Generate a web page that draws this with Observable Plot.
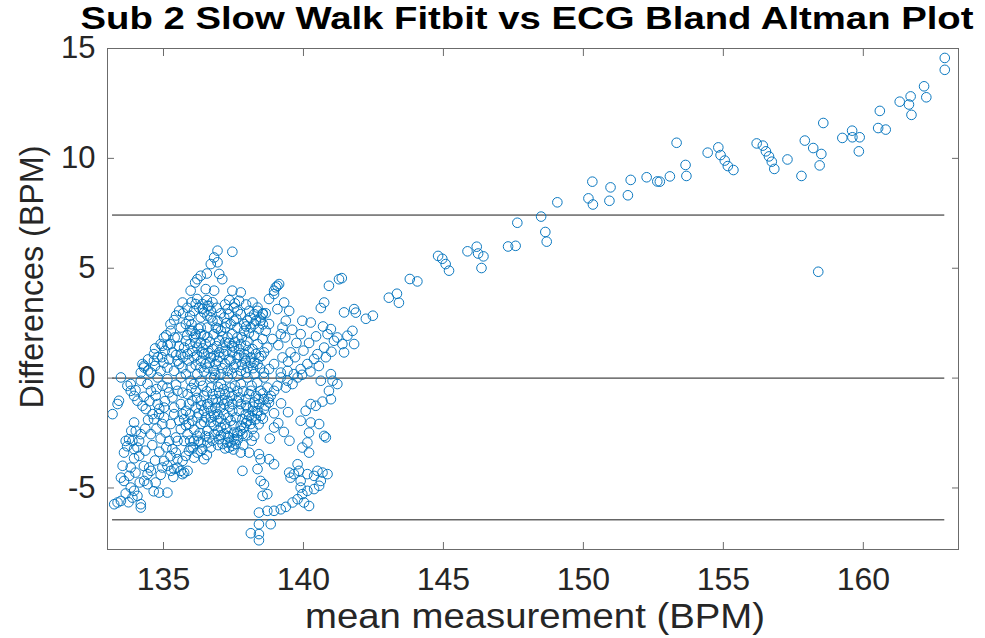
<!DOCTYPE html>
<html>
<head>
<meta charset="utf-8">
<script src="https://cdn.jsdelivr.net/npm/d3@7"></script>
<script src="https://cdn.jsdelivr.net/npm/@observablehq/plot@0.6"></script>
<style>
  html, body { margin: 0; padding: 0; background: #fff; }
  #chart { width: 985px; height: 638px; }
</style>
</head>
<body>
<div id="chart"></div>
<script>
const titleText = "Sub 2 Slow Walk Fitbit vs ECG Bland Altman Plot";
const xLabelText = "mean measurement (BPM)";
const yLabelText = "Differences (BPM)";
const xTicks = [135, 140, 145, 150, 155, 160];
const yTicks = [-5, 0, 5, 10, 15];
const limitLines = [7.42, 0, -6.45];

// sparse upper trend (mean > 141)
const trendMean = [150.32,150.97,151.69,152.26,152.64,150.18,150.34,150.93,151.59,149.07,
  148.49,147.64,148.64,148.69,147.31,147.58,146.19,145.86,146.24,146.43,
  146.36,144.81,144.96,145.08,145.20,143.80,144.07,141.37,162.91,162.91,
  162.17,162.25,161.69,161.30,161.63,161.72,160.59,160.53,160.80,158.57,
  159.60,159.25,159.61,159.87,159.84,157.91,158.21,158.50,158.44,157.79,
  157.29,156.19,156.41,156.52,156.63,156.73,156.82,154.82,154.90,155.05,
  155.16,155.36,154.44,153.33,153.65,153.68,153.09,152.73,158.39,141.87,
  142.23,142.48,143.05,143.34,143.41];
const trendDiff = [8.94,8.68,9.02,9.14,8.95,8.18,7.90,8.07,8.32,8.00,
  7.35,7.07,6.65,6.21,5.99,6.02,5.98,5.77,5.67,5.54,
  5.01,5.56,5.43,5.19,4.89,4.51,4.40,4.55,14.57,14.03,
  13.28,12.78,12.82,12.58,12.45,11.98,12.16,11.38,11.31,11.61,
  11.26,10.93,10.96,10.96,10.32,10.81,10.47,10.20,9.68,9.20,
  9.95,10.68,10.58,10.32,10.09,9.85,9.52,10.50,10.15,9.90,
  9.65,9.47,10.26,10.71,9.70,9.20,9.18,8.94,4.84,2.98,
  2.70,2.84,3.66,3.84,3.43];

// rising arms above the cluster
const armMean = [136.93,137.46,136.81,136.93,136.69,136.55,136.33,136.21,136.13,135.97,
  135.68,135.56,135.38,135.26,135.02,134.90,134.66,134.31,137.10,136.99,
  136.81,136.51,136.39,136.63,136.69,137.46,137.76,137.70,138.18,138.36,
  138.54,138.47,
  139.07,138.95,138.77,139.31,139.49,139.07,139.37,139.25,139.19,138.89,
  138.71,138.59,138.41,138.24,139.13,139.01,138.95,
  141.27,140.91,140.74,140.62,141.45,141.81,139.96,140.26,140.98,139.90,
  141.21,141.57,141.75,141.81,141.39,141.09,141.45,140.74,140.50,140.38,
  140.14,139.90,139.54,139.25,138.95,138.77,138.59,140.86,
  134.66,134.25,134.31,134.19,135.26,135.32,135.50,135.68,135.91,135.97,
  136.15,136.33,134.96];
const armDiff = [5.80,5.75,5.49,5.27,5.19,4.76,4.66,4.50,4.35,3.98,
  3.44,3.06,2.64,2.15,1.85,1.55,1.09,0.56,4.50,4.74,
  3.98,4.05,3.37,3.29,3.06,3.98,3.90,3.52,3.44,3.06,
  2.91,2.61,
  4.20,3.98,3.60,3.44,3.06,3.14,2.61,2.30,2.00,1.78,
  1.39,1.17,0.94,0.71,4.28,4.13,3.83,
  4.50,4.20,3.44,3.19,2.99,3.14,2.61,2.53,2.23,2.00,
  1.85,1.93,2.15,1.55,1.55,1.70,1.17,1.39,1.09,0.87,
  0.64,0.41,1.17,0.94,0.64,0.41,0.25,2.00,
  0.79,0.64,0.48,0.25,1.55,1.17,0.79,0.48,2.61,2.15,
  2.00,2.30,1.47];

// dense cluster, above zero
const coreUpMean = [136.57,136.33,136.69,136.93,137.17,137.34,137.52,137.20,137.46,137.64,
  137.88,138.00,138.24,138.12,138.00,138.24,136.03,136.09,136.33,136.57,
  136.81,136.99,137.11,137.29,137.52,137.76,136.39,136.21,135.80,135.74,
  135.86,136.09,136.33,136.45,136.69,136.93,137.17,137.40,137.64,137.88,
  138.12,136.57,136.81,137.05,137.29,137.52,137.76,138.00,138.36,135.97,
  136.21,135.80,135.38,135.14,134.90,134.55,139.43,139.66,139.19,
  136.15,136.27,136.45,136.57,136.75,136.09,135.95,137.29,137.52,137.76,
  138.06,138.36,138.47,138.24,137.88,137.64,137.40,137.05,136.87,136.57,
  136.33,136.51,136.75,136.99,137.20,137.46,137.70,137.94,138.18,138.36,
  138.54,138.65,138.77,136.03,135.62,135.50,135.62,135.80,136.51,136.87,
  137.20,137.58,137.94,138.24,137.64,136.69,136.33,135.56,
  135.70,135.85,136.00,136.20,136.40,136.55,136.75,136.90,137.05,137.20,
  137.35,137.55,137.65,137.95,138.10,138.30,138.55,138.65,138.40,138.05,
  137.80,137.55,137.35,137.10,136.90,136.65,136.45,136.25,136.00,135.85,
  136.15,136.40,136.60,136.80,137.00,137.25,137.45,137.70,137.90,138.05,
  138.30,138.50,138.45,138.20,137.95,137.45,137.10,136.85,136.45,136.15,
  135.90,135.70,135.45,135.20,135.00,135.55,135.95,136.20,136.65,137.35,
  137.80,138.10,136.95,137.25,137.60,137.95,138.55];
const coreUpDiff = [3.29,2.76,2.76,2.61,2.76,2.91,2.61,2.30,2.00,1.85,
  2.15,2.61,2.91,2.30,1.70,1.93,2.15,1.85,1.62,1.85,
  2.00,1.70,1.39,1.85,1.39,1.55,1.17,1.39,1.70,1.39,
  1.09,0.94,0.79,1.09,0.94,0.79,1.09,0.79,0.94,1.09,
  0.94,0.48,0.33,0.18,0.33,0.48,0.33,0.48,0.64,0.48,
  0.18,0.18,0.33,0.48,0.33,0.25,0.33,0.18,0.25,
  3.37,3.21,2.99,2.84,2.61,3.06,2.84,3.14,3.21,2.91,
  3.06,3.21,2.76,2.46,2.46,2.30,2.46,2.15,2.30,2.30,
  2.00,1.55,1.32,1.17,1.62,1.17,1.32,1.47,1.32,1.55,
  1.78,2.15,2.46,1.24,1.09,1.85,2.30,2.46,0.64,0.64,
  0.64,0.64,0.79,0.18,0.10,0.03,0.48,0.64,
  2.95,3.20,3.45,3.60,3.15,3.55,3.45,3.20,2.95,3.35,
  3.55,3.40,3.05,3.35,2.75,2.60,2.45,2.95,2.25,2.05,
  1.85,1.65,1.60,1.90,1.45,1.65,1.95,2.25,2.45,1.95,
  1.60,1.35,1.15,1.00,0.95,1.25,1.45,1.05,0.90,1.20,
  1.10,1.00,0.45,0.45,0.25,0.20,0.45,0.15,0.30,0.60,
  0.80,0.95,1.05,0.85,0.70,1.45,1.55,1.05,0.70,0.85,
  0.60,0.70,2.25,2.50,2.70,2.35,2.95];

// left side, below zero
const leftLowMean = [133.18,133.36,133.41,133.71,133.83,133.95,134.07,134.25,134.37,134.61,
  134.66,133.95,134.01,133.77,133.65,133.89,134.13,134.07,133.95,133.59,
  134.13,134.19,133.54,133.48,133.59,133.77,133.83,133.95,134.07,133.89,
  133.36,133.24,133.48,134.19,134.19,134.49,134.55,134.43,134.31,134.43,
  134.72,134.84,135.14,135.02,134.96,135.14,135.26,135.38,135.62,135.68,
  135.74,135.50,135.08,135.20,135.32,135.44,135.50,135.68,135.80,135.91,
  135.97,136.09,136.21,136.33,136.39,136.21,136.09,136.45,135.26,135.38,
  135.02,134.79,134.72,134.55,134.43,135.14,135.32,135.62,135.68,135.91,
  135.86,135.68,135.14,133.83,135.86,135.50,
  134.00,134.30,134.50,134.85,135.05,135.20,135.45,134.75,134.45,134.35,
  134.55,134.75,134.90,135.10,135.25,134.85,134.60,134.35,134.70,134.30,
  133.95,133.70,133.85,134.00,134.15,134.65,134.90,135.35,133.65,133.75,
  134.45,134.70,134.80,135.05,135.10,135.25,135.45,135.40,135.15,134.95,
  134.45,134.70];
const leftLowDiff = [-1.64,-1.18,-1.03,-0.35,-0.58,-0.81,-1.03,-1.26,-1.41,-1.64,
  -1.87,-2.02,-2.40,-2.78,-2.86,-2.86,-2.86,-3.16,-3.23,-3.39,
  -3.54,-2.55,-3.99,-4.53,-4.68,-4.45,-4.98,-5.13,-5.36,-5.44,
  -5.66,-5.74,-5.59,-5.74,-5.89,-4.07,-4.22,-4.37,-4.68,-4.83,
  -4.75,-5.21,-5.21,-3.77,-4.07,-3.99,-4.22,-4.14,-4.22,-4.37,
  -4.30,-4.07,-2.48,-2.86,-3.23,-3.39,-3.69,-3.77,-3.54,-3.31,
  -3.16,-2.86,-2.63,-2.93,-3.23,-3.39,-3.62,-3.69,-2.09,-1.64,
  -1.34,-1.18,-0.81,-0.58,-0.27,-0.43,-0.88,-1.18,-1.64,-2.09,
  -0.73,-0.66,-0.05,-4.07,-4.22,-2.86,
  -0.55,-0.85,-1.05,-1.40,-1.05,-0.65,-0.30,-0.50,-1.90,-2.30,
  -2.55,-2.30,-2.75,-3.15,-3.55,-3.35,-3.05,-3.30,-3.75,-4.00,
  -3.65,-3.10,-2.40,-4.30,-4.75,-5.15,-4.40,-4.50,-5.25,-5.65,
  0.85,1.35,0.95,1.25,1.95,2.45,2.85,1.85,1.50,0.95,
  0.35,0.55];

// dense cluster, below zero
const coreLowMean = [136.45,136.33,136.57,136.87,137.05,137.29,137.46,137.64,137.76,137.94,
  138.00,138.24,138.36,138.47,138.00,137.76,137.52,137.34,137.40,137.46,
  137.29,137.64,137.64,136.93,136.81,136.69,137.05,137.17,136.21,136.03,
  136.33,136.33,136.69,137.05,137.40,137.76,138.12,138.47,138.71,138.95,
  138.59,138.18,138.24,136.33,136.57,136.69,136.63,
  136.09,136.15,136.03,136.15,136.45,136.69,136.93,136.51,136.57,136.81,
  136.99,137.17,137.20,137.40,137.58,137.70,137.46,137.17,136.93,136.75,
  136.99,137.20,137.46,137.70,137.94,138.06,138.30,138.41,138.18,138.06,
  137.82,137.88,137.82,137.52,137.58,137.34,137.11,138.12,138.30,138.59,
  138.77,138.83,139.07,139.37,139.61,135.80,135.91,135.74,135.62,135.86,
  135.74,135.44,135.56,135.38,135.50,134.96,134.84,135.02,134.96,
  133.48,133.83,134.19,134.79,135.62,135.97,136.81,137.29,138.00,138.59,
  139.19,139.43,139.79,140.62,
  136.00,136.20,136.40,136.55,136.75,136.95,137.15,137.35,137.55,137.85,
  138.15,138.35,138.55,138.75,138.65,138.40,138.20,137.95,137.65,137.35,
  137.10,136.85,136.60,136.35,136.25,136.45,136.70,136.95,137.25,137.50,
  137.75,137.95,138.15,138.35,138.55,138.40,137.30,137.05,136.80,136.50,
  136.75,136.95,137.20,137.50,137.65,137.30,137.05,136.25,136.10,136.30,
  138.00,137.85,138.15,135.95,135.80,135.95,136.05,136.55];
const coreLowDiff = [-0.81,-1.03,-1.18,-0.96,-1.34,-1.03,-1.49,-0.58,-1.18,-1.64,
  -1.34,-1.11,-1.49,-1.72,-1.94,-2.17,-2.48,-2.70,-2.93,-3.08,
  -2.93,-2.63,-2.48,-1.94,-2.17,-1.79,-2.25,-1.64,-1.79,-1.94,
  -2.09,-0.12,-0.43,-0.27,-0.43,-0.27,-0.58,-0.58,-0.43,-0.58,
  -0.96,-2.32,-2.63,-3.31,-2.93,-3.16,-2.70,
  -0.27,-0.58,-1.03,-1.34,-1.49,-1.49,-1.64,-1.79,-2.40,-2.55,
  -2.78,-2.55,-2.09,-1.94,-1.79,-1.49,-1.18,-1.18,-1.11,-0.73,
  -0.66,-0.73,-0.81,-0.88,-0.96,-0.73,-0.81,-1.18,-1.49,-1.72,
  -1.87,-2.25,-2.55,-2.78,-3.00,-3.16,-3.00,-2.09,-1.87,-1.41,
  -1.11,-0.81,-0.35,-0.43,-0.27,-1.49,-1.18,-1.87,-2.32,-2.55,
  -2.86,-2.70,-1.94,-1.34,-0.58,-0.35,-1.64,-1.79,-2.09,
  0.03,-0.27,-0.12,0.03,0.03,-0.12,0.03,0.03,0.03,0.03,
  0.03,-0.12,0.03,-0.12,
  -0.45,-0.90,-0.35,-0.60,-1.00,-0.40,-0.50,-0.65,-0.35,-0.60,
  -0.35,-0.20,-0.70,-0.95,-1.25,-0.95,-1.30,-1.25,-1.05,-1.30,
  -1.00,-1.35,-1.30,-1.25,-1.60,-2.00,-2.00,-2.40,-2.30,-2.15,
  -2.40,-2.05,-1.80,-1.60,-1.85,-2.10,-1.80,-1.85,-1.70,-2.65,
  -2.85,-3.05,-3.20,-3.25,-2.80,-2.65,-2.60,-2.85,-2.35,-2.50,
  -2.60,-3.05,-2.85,-1.65,-2.15,-2.85,-3.15,-3.50];

// lower tail towards -7, right lobe and right edge of the cluster
const tailMean = [137.76,138.06,138.41,138.47,138.77,138.95,137.82,138.36,138.47,138.59,
  138.54,138.71,138.41,138.71,138.95,139.19,139.37,139.61,139.79,138.41,
  138.83,138.12,138.41,138.41,
  139.96,140.14,140.02,140.20,139.90,140.38,140.56,140.50,140.68,140.86,
  140.62,140.38,140.14,139.84,139.66,139.49,139.79,139.96,140.20,140.14,
  140.20,140.26,140.56,140.80,140.74,139.54,139.90,
  140.44,140.68,140.98,140.91,141.04,141.21,140.98,140.26,140.08,139.90,
  139.10,139.35,139.60,139.75,139.45,139.70,140.00,140.20,140.45,140.70,
  139.95,140.25,140.55,140.80,141.00,138.95,139.10,139.30,139.20,139.45,
  138.80,138.95,139.50];
const tailDiff = [-3.39,-3.39,-3.46,-3.69,-3.69,-3.92,-4.22,-4.14,-4.68,-4.83,
  -5.36,-5.28,-6.12,-6.04,-6.04,-5.97,-5.86,-5.66,-5.51,-6.65,
  -6.65,-7.06,-7.10,-7.38,
  -5.28,-5.13,-5.66,-5.82,-4.98,-5.05,-4.90,-4.22,-4.30,-4.37,
  -4.68,-4.45,-4.37,-4.22,-4.37,-4.30,-3.92,-3.16,-3.39,-2.93,
  -2.48,-2.02,-2.09,-2.70,-2.63,-4.53,-4.68,
  -1.26,-1.07,-0.96,-0.58,-0.12,-0.27,0.18,-1.18,-1.49,-1.94,
  1.50,1.85,2.20,1.60,0.75,0.95,1.25,1.60,1.90,2.35,
  0.15,0.30,0.55,0.95,1.20,-1.60,-2.05,-2.45,-1.15,-1.55,
  -2.75,-2.25,-2.85];

const meanBPM = [...trendMean, ...armMean, ...coreUpMean, ...leftLowMean, ...coreLowMean, ...tailMean];
const diffBPM = [...trendDiff, ...armDiff, ...coreUpDiff, ...leftLowDiff, ...coreLowDiff, ...tailDiff];
const points = meanBPM.map((m, i) => ({mean: m, diff: diffBPM[i]}));

const axisColor = "#6b6b6b";
const textColor = "#262626";
const font = "'Liberation Sans', Arial, Helvetica, sans-serif";

const chart = Plot.plot({
  width: 985,
  height: 638,
  marginLeft: 107,
  marginRight: 27,
  marginTop: 48,
  marginBottom: 89,
  style: {fontFamily: font, background: "#fff", color: textColor},
  x: {domain: [133.0, 163.4], label: null},
  y: {domain: [-7.8, 15], label: null},
  marks: [
    Plot.ruleY(limitLines, {x1: d3.min(meanBPM), x2: d3.max(meanBPM), stroke: "#1a1a1a", strokeWidth: 1}),
    Plot.dot(points, {x: "mean", y: "diff", r: 4.8, stroke: "#0072BD", strokeWidth: 0.95, fill: "none"}),
    Plot.frame({stroke: axisColor, strokeWidth: 1}),
    Plot.axisX({ticks: xTicks, anchor: "bottom", tickSize: -7, tickPadding: 25, fontSize: 32, stroke: axisColor, fill: textColor, label: null}),
    Plot.axisX({ticks: xTicks, anchor: "top", tickSize: -7, tickFormat: () => "", stroke: axisColor, label: null}),
    Plot.axisY({ticks: yTicks, anchor: "left", tickSize: -7, tickPadding: 19, fontSize: 31, tickFormat: d => String(d), stroke: axisColor, fill: textColor, label: null}),
    Plot.axisY({ticks: yTicks, anchor: "right", tickSize: -7, tickFormat: () => "", stroke: axisColor, label: null}),
    Plot.text([titleText], {frameAnchor: "top", textAnchor: "middle", dy: -20, dx: -6, lineAnchor: "bottom", fontSize: 31, fontWeight: "bold", fill: "#000"}),
    Plot.text([xLabelText], {frameAnchor: "bottom", textAnchor: "middle", dy: 78, dx: 2, lineAnchor: "bottom", fontSize: 35, fill: textColor}),
    Plot.text([yLabelText], {frameAnchor: "left", textAnchor: "middle", dx: -65, dy: -22, rotate: -90, lineAnchor: "bottom", fontSize: 33, fill: textColor})
  ]
});
// stretch the labels to the lengths seen in the reference
const stretch = {[titleText]: 893, [xLabelText]: 460, [yLabelText]: 263};
chart.querySelectorAll("text").forEach(t => {
  const w = stretch[t.textContent];
  if (w) { t.setAttribute("textLength", w); t.setAttribute("lengthAdjust", "spacingAndGlyphs"); }
});
document.getElementById("chart").appendChild(chart);
</script>
</body>
</html>
